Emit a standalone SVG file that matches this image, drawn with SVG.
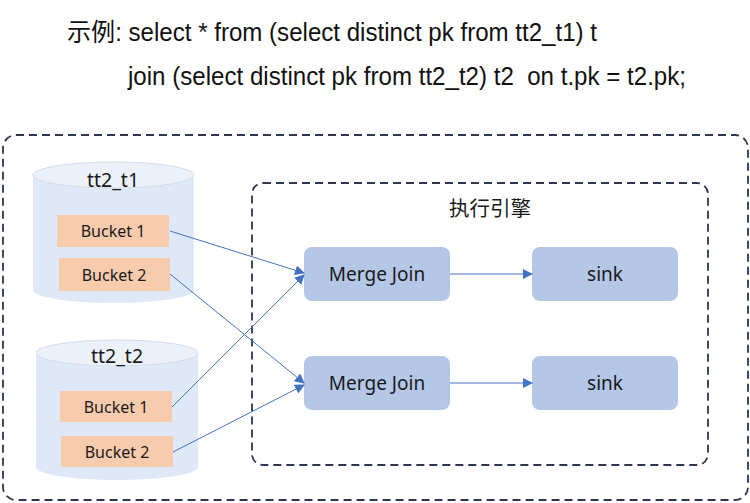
<svg xmlns="http://www.w3.org/2000/svg" width="750" height="503" viewBox="0 0 750 503">
<defs>
<marker id="arr" viewBox="0 0 10 10" refX="9" refY="5" markerWidth="10" markerHeight="10" markerUnits="userSpaceOnUse" orient="auto">
<path d="M0,0 L10,5 L0,10 z" fill="#4472c4"/>
</marker>
</defs>
<style>
.hdr{font-family:"Liberation Sans","Noto Sans CJK SC",sans-serif;font-size:25px;fill:#111;white-space:pre}
.lbl{font-family:"Noto Sans","Noto Sans CJK SC",sans-serif;fill:#1a1a1a;text-anchor:middle;dominant-baseline:central}
.dash{fill:none;stroke:#2b3650;stroke-width:1.8;stroke-dasharray:8 5}
.proc{fill:#b4c7e7}
.bucket{fill:#f8cbad}
.cylbody{fill:#dee8f6}
.cyltop{fill:#ecf1f9;stroke:#d2dced;stroke-width:1}
.conn{fill:none;stroke:#4472c4;stroke-width:1;marker-end:url(#arr)}
</style>
<text class="hdr" x="67" y="41" textLength="530" lengthAdjust="spacingAndGlyphs">示例: select * from (select distinct pk from tt2_t1) t</text>
<text class="hdr" x="128" y="85" textLength="558" lengthAdjust="spacingAndGlyphs">join (select distinct pk from tt2_t2) t2  on t.pk = t2.pk;</text>
<g id="outer"><rect class="dash" x="3" y="135" width="745" height="365" rx="13"/></g>
<g id="engine"><rect class="dash" x="252" y="183" width="456" height="282" rx="11"/>
<text class="lbl" x="490" y="208" font-size="20.5">执行引擎</text></g>
<g id="tt2_t1">
<path class="cylbody" d="M33,175 L33,290 A80.5,13 0 0 0 194,290 L194,175 Z"/>
<ellipse class="cyltop" cx="113.5" cy="175" rx="80.5" ry="13"/>
<text class="lbl" x="113" y="179" font-size="19.5">tt2_t1</text>
</g>
<g id="t1_bucket1"><rect class="bucket" x="57" y="215" width="112" height="32"/><text class="lbl" x="113" y="231" font-size="16">Bucket 1</text></g>
<g id="t1_bucket2"><rect class="bucket" x="59" y="258" width="111" height="33"/><text class="lbl" x="114" y="274.5" font-size="16">Bucket 2</text></g>
<g id="tt2_t2">
<path class="cylbody" d="M36,353 L36,467 A81,13 0 0 0 198,467 L198,353 Z"/>
<ellipse class="cyltop" cx="117" cy="353" rx="81" ry="13"/>
<text class="lbl" x="117" y="355" font-size="19.5">tt2_t2</text>
</g>
<g id="t2_bucket1"><rect class="bucket" x="60" y="391" width="112" height="31"/><text class="lbl" x="116" y="407" font-size="16">Bucket 1</text></g>
<g id="t2_bucket2"><rect class="bucket" x="61" y="436" width="112" height="31"/><text class="lbl" x="117" y="452" font-size="16">Bucket 2</text></g>
<g id="mj1"><rect class="proc" x="304" y="247" width="146" height="54" rx="8"/><text class="lbl" x="377" y="274" font-size="19">Merge Join</text></g>
<g id="sink1"><rect class="proc" x="532" y="247" width="146" height="54" rx="8"/><text class="lbl" x="605" y="274" font-size="19">sink</text></g>
<g id="mj2"><rect class="proc" x="304" y="356" width="146" height="54" rx="8"/><text class="lbl" x="377" y="383" font-size="19">Merge Join</text></g>
<g id="sink2"><rect class="proc" x="532" y="356" width="146" height="54" rx="8"/><text class="lbl" x="605" y="383" font-size="19">sink</text></g>
<g id="connectors">
<line class="conn" x1="170" y1="231" x2="304" y2="273"/>
<line class="conn" x1="170" y1="274" x2="304" y2="383"/>
<line class="conn" x1="172" y1="407" x2="304" y2="275"/>
<line class="conn" x1="173" y1="452" x2="304" y2="385"/>
<line class="conn" x1="450" y1="274" x2="532" y2="274"/>
<line class="conn" x1="450" y1="383" x2="532" y2="383"/>
</g>
</svg>
